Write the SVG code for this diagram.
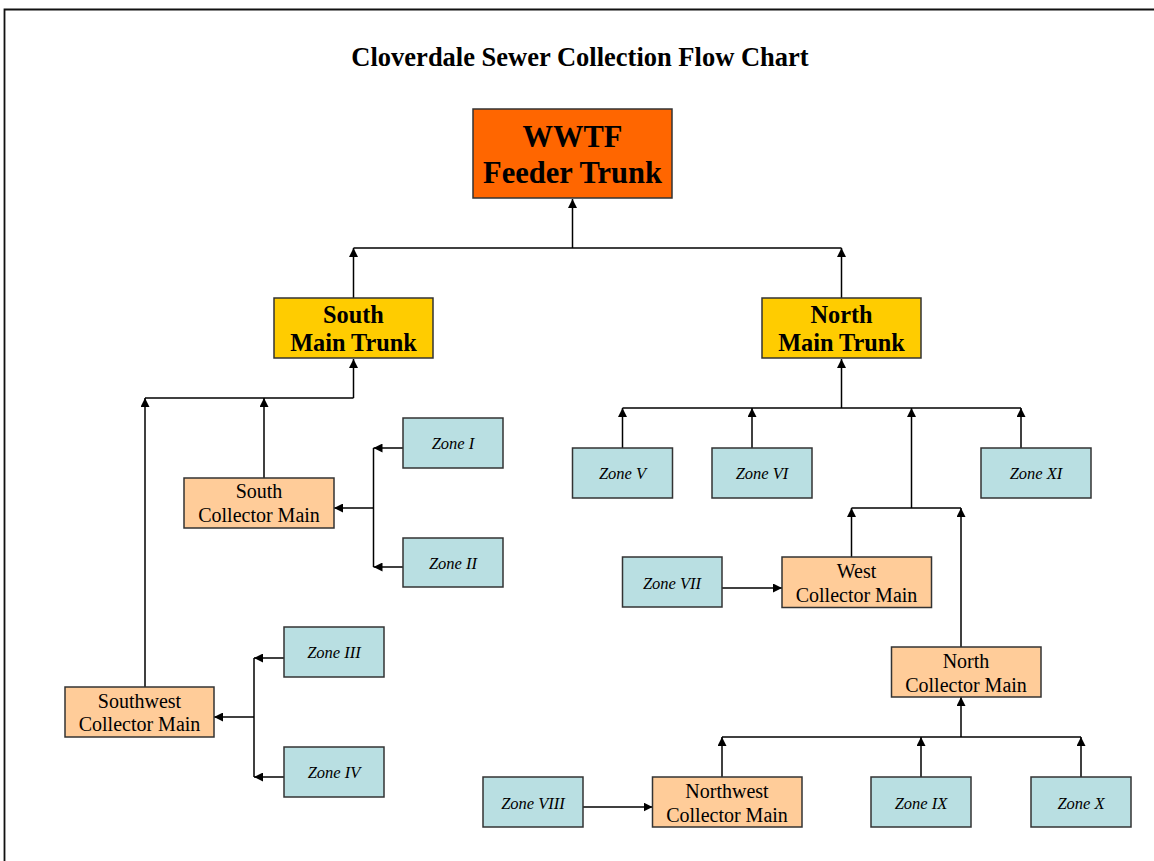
<svg xmlns="http://www.w3.org/2000/svg" width="1154" height="861" viewBox="0 0 1154 861">
<defs>
<marker id="ah" markerUnits="userSpaceOnUse" markerWidth="9" markerHeight="9" viewBox="0 0 10 10" refX="10" refY="5" orient="auto">
<path d="M0,0 L10,5 L0,10 z" fill="#000"/>
</marker>
<style>
.box{stroke:#333;stroke-width:1.5}
.wwtf{fill:#FF6600}
.trunk{fill:#FFCC00}
.coll{fill:#FFCC99}
.zone{fill:#B9DFE2}
.t{font-family:"Liberation Serif","Times New Roman",serif;fill:#000;text-anchor:middle}
.b{font-weight:bold}
.z{font-style:italic;font-size:16.5px}
.c{font-size:20px}
.conn path{fill:none;stroke:#000;stroke-width:1.5}
.conn path.a{marker-end:url(#ah)}
</style>
</defs>
<rect width="1154" height="861" fill="#fff"/>
<path d="M4.5,861 V9.5 H1154" fill="none" stroke="#111" stroke-width="1.8"/>
<text class="t b" x="580" y="66" font-size="26.5">Cloverdale Sewer Collection Flow Chart</text>

<g class="conn" id="connectors">
<path class="a" d="M572.5,248 V199"/>
<path d="M353.5,248 H841.5"/>
<path class="a" d="M353.5,298 V248"/>
<path class="a" d="M841.5,298 V248"/>
<path class="a" d="M353.5,398 V359"/>
<path d="M145,398 H353.5"/>
<path class="a" d="M145,687 V398"/>
<path class="a" d="M264,478 V398"/>
<path class="a" d="M403,448 H373.5"/>
<path class="a" d="M403,567 H373.5"/>
<path d="M373.5,448 V567"/>
<path class="a" d="M373.5,508 H334"/>
<path class="a" d="M284,658 H254"/>
<path class="a" d="M284,777 H254"/>
<path d="M254,658 V777"/>
<path class="a" d="M254,717 H214"/>
<path class="a" d="M841.5,408 V359"/>
<path d="M622.5,408 H1021"/>
<path class="a" d="M622.5,448 V408"/>
<path class="a" d="M752,448 V408"/>
<path class="a" d="M911.5,508 V408"/>
<path class="a" d="M1021,448 V408"/>
<path d="M851.5,508 H961"/>
<path class="a" d="M851.5,557 V508"/>
<path class="a" d="M961,647 V508"/>
<path class="a" d="M722,588 H782"/>
<path class="a" d="M961,737 V697"/>
<path d="M722,737 H1081"/>
<path class="a" d="M722,777 V737"/>
<path class="a" d="M921,777 V737"/>
<path class="a" d="M1081,777 V737"/>
<path class="a" d="M583,807 H652.5"/>
</g>

<g id="wwtf"><rect class="box wwtf" x="473" y="109" width="199" height="89"/>
<text class="t b" x="572.5" y="147" font-size="30.5">WWTF</text>
<text class="t b" x="572.5" y="182.5" font-size="30.5">Feeder Trunk</text></g>

<g id="south-main-trunk"><rect class="box trunk" x="274" y="298" width="159" height="60"/>
<text class="t b" x="353.5" y="322.5" font-size="24.3">South</text>
<text class="t b" x="353.5" y="350.5" font-size="24.3">Main Trunk</text></g>

<g id="north-main-trunk"><rect class="box trunk" x="762" y="298" width="159" height="60"/>
<text class="t b" x="841.5" y="322.5" font-size="24.3">North</text>
<text class="t b" x="841.5" y="350.5" font-size="24.3">Main Trunk</text></g>

<g id="south-collector"><rect class="box coll" x="184" y="478" width="150" height="50"/>
<text class="t c" x="259" y="498">South</text>
<text class="t c" x="259" y="522">Collector Main</text></g>

<g id="southwest-collector"><rect class="box coll" x="65" y="687" width="149" height="50"/>
<text class="t c" x="139.5" y="707.5">Southwest</text>
<text class="t c" x="139.5" y="731">Collector Main</text></g>

<g id="west-collector"><rect class="box coll" x="782" y="557" width="149.5" height="50.5"/>
<text class="t c" x="856.5" y="578">West</text>
<text class="t c" x="856.5" y="602">Collector Main</text></g>

<g id="north-collector"><rect class="box coll" x="891.5" y="647" width="149.5" height="50"/>
<text class="t c" x="966" y="668">North</text>
<text class="t c" x="966" y="692">Collector Main</text></g>

<g id="northwest-collector"><rect class="box coll" x="652.5" y="777" width="149.5" height="50"/>
<text class="t c" x="727" y="797.5">Northwest</text>
<text class="t c" x="727" y="821.5">Collector Main</text></g>

<g id="zone-1"><rect class="box zone" x="403" y="418" width="100" height="50"/><text class="t z" x="453" y="448.5">Zone I</text></g>
<g id="zone-2"><rect class="box zone" x="403" y="538" width="100" height="49"/><text class="t z" x="453" y="568.5">Zone II</text></g>
<g id="zone-3"><rect class="box zone" x="284" y="627" width="100" height="50"/><text class="t z" x="334" y="658">Zone III</text></g>
<g id="zone-4"><rect class="box zone" x="284" y="747" width="100" height="50"/><text class="t z" x="334" y="778">Zone IV</text></g>
<g id="zone-5"><rect class="box zone" x="572.5" y="448" width="100" height="50"/><text class="t z" x="622.5" y="479">Zone V</text></g>
<g id="zone-6"><rect class="box zone" x="712" y="448" width="100" height="50"/><text class="t z" x="762" y="479">Zone VI</text></g>
<g id="zone-7"><rect class="box zone" x="622.5" y="557" width="99.5" height="50"/><text class="t z" x="672" y="588.5">Zone VII</text></g>
<g id="zone-8"><rect class="box zone" x="483" y="777" width="100" height="50"/><text class="t z" x="533" y="808.5">Zone VIII</text></g>
<g id="zone-9"><rect class="box zone" x="871" y="777" width="100" height="50"/><text class="t z" x="921" y="808.5">Zone IX</text></g>
<g id="zone-10"><rect class="box zone" x="1031" y="777" width="100" height="50"/><text class="t z" x="1081" y="808.5">Zone X</text></g>
<g id="zone-11"><rect class="box zone" x="981" y="448" width="110" height="50"/><text class="t z" x="1036" y="479">Zone XI</text></g>
</svg>
